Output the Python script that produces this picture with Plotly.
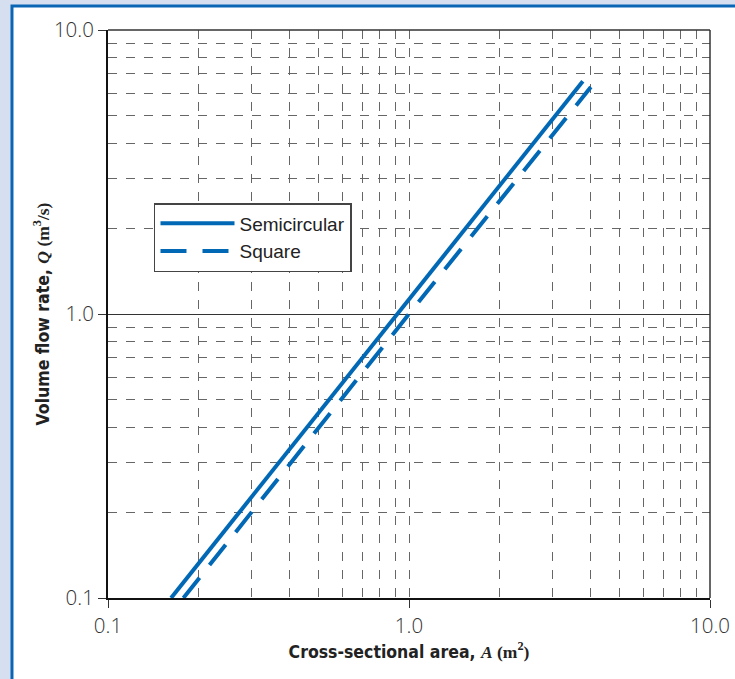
import plotly.graph_objects as go

# Data (log-log straight lines)
semi_A = [0.162, 0.91, 3.78]
semi_Q = [0.1, 1.0, 6.6]
square_A = [0.178, 1.0, 4.02]
square_Q = [0.1, 1.0, 6.3]

major_vals = [0.1, 1.0, 10.0]
major_text = ["0.1", "1.0", "10.0"]
minor_vals = [0.2, 0.3, 0.4, 0.5, 0.6, 0.7, 0.8, 0.9,
              2, 3, 4, 5, 6, 7, 8, 9]

BLUE = "#0068b4"
TITLE_FONT = "DejaVu Sans Condensed, Liberation Sans Narrow, Arial Narrow, sans-serif"
SERIF = "Liberation Serif, Times New Roman, serif"
TICK_FONT = "Open Sans, Liberation Sans, Arial, sans-serif"

fig = go.Figure()
fig.add_trace(go.Scatter(x=semi_A, y=semi_Q, mode="lines", name="Semicircular",
                         legendgroup="a",
                         line=dict(color=BLUE, width=4)))
fig.add_trace(go.Scatter(x=square_A, y=square_Q, mode="lines", name="Square",
                         legendgroup="b",
                         line=dict(color=BLUE, width=4, dash="26px,16px")))

grid_common = dict(
    type="log",
    tickmode="array",
    tickvals=major_vals,
    ticktext=major_text,
    ticks="outside",
    ticklen=8,
    tickwidth=1.2,
    tickcolor="#333",
    showline=True,
    linecolor="#111",
    linewidth=2,
    mirror=False,
    automargin=False,
    tickfont=dict(family=TICK_FONT, size=20.5, color="#333", weight=300),
    minor=dict(tickvals=minor_vals, showgrid=True, gridcolor="#666",
               gridwidth=1.2, griddash="9px,9px", ticks=""),
    zeroline=False,
)

fig.update_xaxes(
    range=[-1, 1],
    showgrid=True, gridcolor="#666", gridwidth=1.2, griddash="9px,9px",
    title=dict(
        text="Cross-sectional area, <span style='font-family:" + SERIF + "'><i>A</i> (m<sup>2</sup>)</span>",
        font=dict(family=TITLE_FONT, size=17.5, color="#222", weight="bold"),
        standoff=8,
    ),
    **grid_common,
)
fig.update_yaxes(
    range=[-1, 1],
    showgrid=True, gridcolor="#333", gridwidth=1.2,
    title=dict(
        text="Volume flow rate, <span style='font-family:" + SERIF + "'><i>Q</i> (m<sup>3</sup>/s)</span>",
        font=dict(family=TITLE_FONT, size=17.5, color="#222", weight="bold"),
        standoff=0,
    ),
    **grid_common,
)

fig.update_layout(
    width=735, height=679,
    margin=dict(l=108, r=25, t=30, b=81),
    paper_bgcolor="#d6dff0",
    plot_bgcolor="white",
    showlegend=True,
    legend=dict(
        x=0.0764, y=0.6954, xanchor="left", yanchor="top",
        bgcolor="white", bordercolor="#444", borderwidth=1.5,
        font=dict(family="Liberation Sans, Arial, sans-serif", size=19, color="#222"),
        itemwidth=74, tracegroupgap=0,
    ),
    shapes=[
        # outer white panel with blue frame
        dict(type="rect", xref="paper", yref="paper",
             x0=-0.1595, x1=1.3, y0=-0.5, y1=1.0423,
             fillcolor="white", line=dict(color="#0a66b5", width=3), layer="below"),
        # top and right plot borders
        dict(type="line", xref="paper", yref="paper", x0=0, x1=1, y0=1, y1=1,
             line=dict(color="#333", width=1.5)),
        dict(type="line", xref="paper", yref="paper", x0=1, x1=1, y0=0, y1=1,
             line=dict(color="#333", width=1.5)),
    ],
)

fig.write_html("out.html", config={"displayModeBar": False},
               post_script="document.body.style.margin='0';")
